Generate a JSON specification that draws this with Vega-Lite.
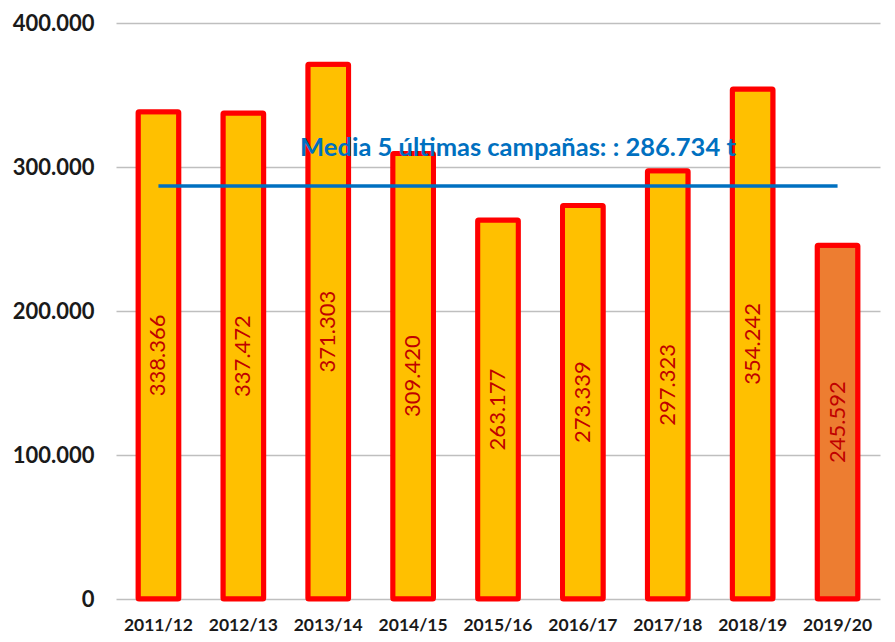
{
  "$schema": "https://vega.github.io/schema/vega-lite/v6.json",
  "width": 764,
  "height": 576,
  "autosize": {"type": "none"},
  "padding": {"left": 116, "top": 23, "right": 15, "bottom": 43},
  "config": {
    "locale": {"number": {"decimal": ",", "thousands": ".", "grouping": [3], "currency": ["", " €"]}},
    "view": {"stroke": null},
    "font": "Lato"
  },
  "data": {
    "values": [
      {"campana": "2011/12", "valor": 338366, "media": 286734, "actual": "no"},
      {"campana": "2012/13", "valor": 337472, "media": 286734, "actual": "no"},
      {"campana": "2013/14", "valor": 371303, "media": 286734, "actual": "no"},
      {"campana": "2014/15", "valor": 309420, "media": 286734, "actual": "no"},
      {"campana": "2015/16", "valor": 263177, "media": 286734, "actual": "no"},
      {"campana": "2016/17", "valor": 273339, "media": 286734, "actual": "no"},
      {"campana": "2017/18", "valor": 297323, "media": 286734, "actual": "no"},
      {"campana": "2018/19", "valor": 354242, "media": 286734, "actual": "no"},
      {"campana": "2019/20", "valor": 245592, "media": 286734, "actual": "si"}
    ]
  },
  "encoding": {
    "x": {
      "field": "campana", "type": "nominal", "sort": null,
      "scale": {"paddingInner": 0.52, "paddingOuter": 0.26},
      "axis": {"title": null, "labelAngle": 0, "labelFont": "Lato", "labelFontSize": 17.5, "labelFontWeight": "bold", "labelColor": "#1a1a1a", "ticks": false, "domain": false, "labelPadding": 17}
    }
  },
  "layer": [
    {
      "layer": [
        {
          "mark": {"type": "bar", "stroke": "#FF0000", "strokeWidth": 5, "cornerRadius": 1},
          "encoding": {
            "y": {
              "field": "valor", "type": "quantitative",
              "scale": {"domain": [0, 400000], "nice": false},
              "axis": {"title": null, "values": [0, 100000, 200000, 300000, 400000], "format": ",.0f", "labelFont": "Lato", "labelFontSize": 22, "labelFontWeight": "bold", "labelColor": "#1a1a1a", "ticks": false, "domain": false, "labelPadding": 22, "gridColor": "#BFBFBF", "gridWidth": 1.5}
            },
            "color": {
              "field": "actual", "type": "nominal",
              "scale": {"domain": ["no", "si"], "range": ["#FFC000", "#ED7D31"]},
              "legend": null
            }
          }
        },
        {
          "mark": {"type": "line", "color": "#0070C0", "strokeWidth": 3.5},
          "encoding": {
            "y": {"field": "media", "type": "quantitative"}
          }
        },
        {
          "transform": [{"filter": "datum.campana == '2015/16'"}],
          "mark": {"type": "text", "align": "center", "baseline": "middle", "font": "Lato", "fontSize": 25.5, "fontWeight": "bold", "letterSpacing": 0.9, "color": "#0070C0", "dx": 20, "dy": -38},
          "encoding": {
            "y": {"field": "media", "type": "quantitative"},
            "text": {"value": "Media 5 últimas campañas: : 286.734 t"}
          }
        }
      ]
    },
    {
      "mark": {"type": "text", "angle": 270, "align": "center", "baseline": "middle", "font": "Lato", "fontSize": 22, "color": "#C00000"},
      "encoding": {
        "y": {"field": "valor", "type": "quantitative", "scale": {"domain": [0, 800000], "nice": false}, "axis": null},
        "text": {"field": "valor", "type": "quantitative", "format": ",.0f"}
      }
    }
  ],
  "resolve": {"scale": {"y": "independent"}}
}
